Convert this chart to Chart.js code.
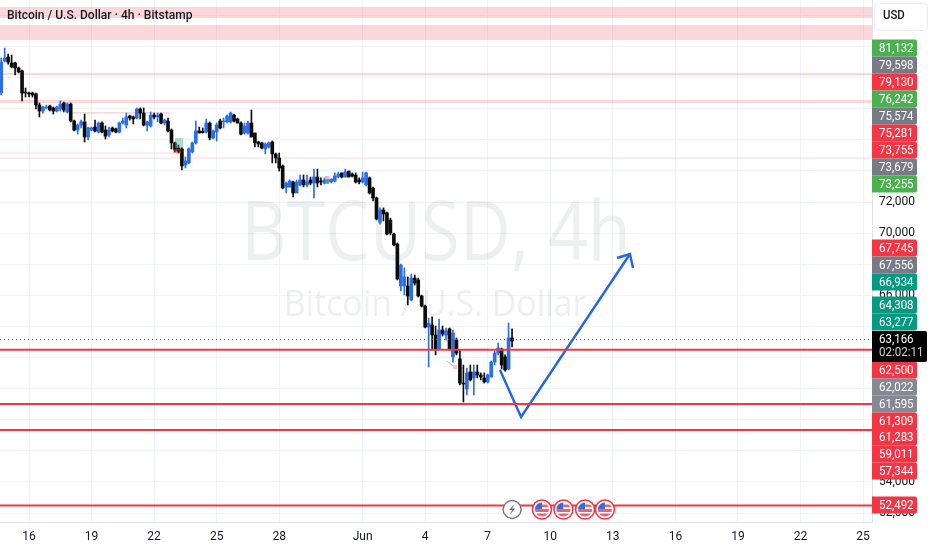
<!DOCTYPE html>
<html>
<head>
<meta charset="utf-8">
<style>html,body{margin:0;padding:0;background:#fff;overflow:hidden}canvas{display:block}</style>
<script src="https://cdn.jsdelivr.net/npm/chart.js@4"></script>
</head>
<body>
<canvas id="c" width="932" height="550"></canvas>
<script>
const opens=[79010,81070,81320,80940,80940,80620,80430,79070,79010,79010,
78950,78240,77850,78050,78170,78050,77850,77980,78370,77790,
78300,77210,76630,76950,77150,76180,76630,76820,76500,77080,
76630,76310,76760,76700,76500,77080,76950,77530,77470,77400,
77980,77720,76950,76890,77590,77470,77660,77080,77210,76630,
75800,75480,75410,74380,74510,75220,75800,76570,76540,76500,
77080,76120,76500,77210,77150,77150,77150,77590,77340,77080,
76440,76440,77080,76440,75860,75800,75410,75540,75860,75090,
74830,74320,72960,72960,73290,72580,73100,73420,73100,73420,
73220,73610,73350,73220,73290,73290,73350,73610,73870,73610,
73990,73800,73740,73420,73290,73100,73550,72900,72260,70700,
71490,71300,70840,69940,69300,66600,66600,66600,65700,67110,
66990,65960,65310,63960,64090,63450,62550,63770,63450,63840,
62040,63130,61910,60360,59980,61070,60690,61070,60880,60690,
60430,60750,61710,62290,62550,62040,61260,63260];
const closes=[81000,81260,81000,80680,80620,80360,79010,79010,78950,78880,
78240,77850,78110,78110,77920,77850,78110,78300,77920,78300,
77210,76630,76950,77150,76180,76760,76760,76570,77080,76500,
76240,76630,76570,76500,77080,77210,77470,77400,77340,77980,
77720,76950,77150,77590,77470,77590,77080,77270,76570,75800,
75350,75220,74320,74640,75410,75800,76570,76440,76470,77080,
76120,76570,76950,76760,77210,77530,77720,77210,77080,76370,
76890,77080,76180,75800,75730,75470,75730,75800,75090,74830,
74190,72900,73220,73350,72580,73290,73420,73100,73290,73220,
73610,73220,73290,73420,73420,73480,73670,73800,73610,73930,
73610,73670,73290,73290,73550,73870,72580,72260,70910,71490,
71230,69940,70010,69240,67050,67950,67180,65960,67110,66790,
65960,65310,63960,64220,63450,62490,63770,63510,63710,62550,
63580,62290,60360,60300,61010,60560,61070,60880,60750,60430,
60880,61710,62290,62610,61520,61200,63260,63060];
const highs=[81260,81900,81520,81450,81000,80680,80490,79330,79070,79070,
79010,78370,78170,78240,78240,78110,78170,78500,78430,78370,
78370,77270,77020,77270,77660,76820,76820,77270,77150,77150,
76890,76820,76820,76760,77150,77400,77720,77590,77530,78050,
78050,78050,77210,77790,77720,77720,77720,77340,77400,76700,
75860,75670,75480,74900,75480,75860,77210,76820,76760,77340,
77150,76630,77080,77340,77400,77590,77790,77660,77400,77150,
77080,77210,77920,76440,75920,75860,75800,75860,75920,75150,
75150,74380,73290,73420,73350,73420,73740,73740,73740,73610,
74120,74120,73550,73550,73420,73480,73870,73930,73870,74120,
73990,73870,73870,73550,73930,73930,73610,72960,72320,71620,
71620,71360,70970,70010,69370,68010,67760,67180,67370,67310,
67110,66020,65380,64540,64610,64030,64480,64030,63900,63900,
63770,63260,62490,61520,61330,61520,61520,61520,61010,61010,
60940,61780,62420,62930,62610,62170,64220,63840];
const lows=[78880,81000,80870,80620,80170,80300,78500,78750,78750,78750,
77980,77470,77720,77980,77850,77660,77790,77850,77790,77720,
77150,76570,76370,76760,75860,75990,76570,76500,76440,76440,
76050,76180,76500,76440,76440,77020,76760,77270,77020,77340,
77340,76890,76570,76820,77340,77150,77020,76950,76500,75410,
75220,75150,74060,74190,74450,75150,75730,76440,76440,76440,
75990,76050,75920,76700,76760,77080,77080,77150,77080,76310,
76370,76370,76180,75540,75540,75410,75090,75470,74510,74510,
73990,72840,72580,72960,72320,72580,73030,72970,72970,73100,
72260,72970,73100,73160,73220,73220,73290,73550,73550,73610,
73610,73610,73220,73160,73220,73030,72510,72070,70840,70580,
70780,69880,69880,69170,66990,66280,66020,65380,65640,66660,
65890,65250,63900,61390,62490,62170,62490,63380,63130,62490,
61710,62170,60240,59140,59590,60490,59590,60690,60560,60360,
60360,60750,61520,62170,61260,61130,61200,62680];

const barsPerDay=6, firstBarDay=-8/6;
const times=opens.map((_,i)=>firstBarDay+i/barsPerDay);

const xTickDays=[0,3,6,9,12,16,19,22,25,28,31,34,37,40];
const xTickLabels=['16','19','22','25','28','Jun','4','7','10','13','16','19','22','25'];
const yGridValues=[52000,54000,56000,58000,60000,62000,64000,66000,68000,70000,72000,74000,76000,78000,80000,82000,84000];
const yShownLabels=[52000,54000,66000,70000,72000];

const levelPrices=[62500,59011,57344,52492];
const lastPrice=63166;
const arrowDays=[22.59,23.6,28.82];
const arrowPrices=[61200,58176,68658];
const arrowHeadDays=[28.2,28.82,28.97];
const arrowHeadPrices=[68400,68658,67760];

const tagLabels=['81,132','79,598','79,130','76,242','75,574','75,281','73,755','73,679','73,255','67,745','67,556','66,934','64,308','63,277','62,500','62,022','61,595','61,309','61,283','59,011','57,344','52,492'];
const tagKinds=['g','s','r','g','s','r','r','s','g','r','s','t','t','t','r','m','m','r','r','r','r','r'];
const tagRows=[48,65,82,99,116,133,150,167,184,248,265,282,305,322,370,387,404,421,437,454,471,505];
const eventDays=[24.6,25.63,26.67,27.62];
const boltDay=23.17;

const zoneLow=[83833,82418,80167,78366,77690,75120,74800];
const zoneHigh=[84540,83383,80296,78559,77787,75180,74860];
const zoneFrom=[-1.4,-1.4,-1.4,-1.4,1.97,-1.4,-1.4];
const zoneTo=[40.5,40.5,40.5,40.5,6.76,7.24,40.5];
const TITLE='Bitcoin / U.S. Dollar · 4h · Bitstamp';
const FONT='Roboto, "Open Sans", sans-serif';
const BLUE='#2a6fe8', DOWN='#0c0c0c', RED='#f23645';
const tagColor={g:'#4caf50',s:'#787b86',r:'#f23645',t:'#089981',m:'#868993'};

function narrowText(ctx,s,x,y,font,color,sx,align){
  ctx.save();ctx.font=font;ctx.fillStyle=color;ctx.textAlign=align||'left';ctx.textBaseline='middle';
  ctx.translate(x,y);ctx.scale(sx,1);ctx.fillText(s,0,0);ctx.restore();
}
const underlay={id:'underlay',beforeDatasetsDraw(ch){
  const {ctx,scales:{x,y},chartArea:a}=ch;
  ctx.save();ctx.beginPath();ctx.rect(a.left,a.top,a.right-a.left,a.bottom-a.top);ctx.clip();
  narrowText(ctx,'BTCUSD, 4h',436,237,'500 82px "Open Sans"','rgba(19,23,34,0.07)',0.86,'center');
  narrowText(ctx,'Bitcoin / U.S. Dollar',435,306,'500 36px "Open Sans"','rgba(19,23,34,0.07)',0.94,'center');
  ctx.fillStyle='rgba(242,54,69,0.2)';
  zoneLow.forEach((lo,i)=>{
    const t=y.getPixelForValue(zoneHigh[i]),b=y.getPixelForValue(lo);
    const l=x.getPixelForValue(zoneFrom[i]),r=x.getPixelForValue(zoneTo[i]);
    ctx.fillRect(l,t,r-l,b-t);
  });
  ctx.restore();
},afterDatasetsDraw(ch){
  const {ctx,scales:{x,y}}=ch;
  const box=(d0,d1,v0,v1,c)=>{ctx.fillStyle=c;const l=x.getPixelForValue(d0),r=x.getPixelForValue(d1),t=y.getPixelForValue(v1),b=y.getPixelForValue(v0);ctx.fillRect(l,t,r-l,b-t);};
  box(7.0,7.39,75474,76116,'rgba(76,175,140,0.45)');
  box(6.9,7.3,75150,75410,'rgba(242,54,69,0.4)');
  box(14.2,14.39,73420,73670,'rgba(242,54,69,0.4)');
  box(14.2,14.39,73160,73420,'rgba(76,175,140,0.7)');
  box(20.34,20.53,61260,61520,'rgba(242,54,69,0.3)');
}};
const overlay={id:'overlay',afterDraw(ch){
  const {ctx,scales:{x,y},chartArea:a}=ch;
  narrowText(ctx,TITLE,7,16,'500 13px '+FONT,'#131722',0.925);
  ctx.save();ctx.strokeStyle='#e9ebf1';ctx.lineWidth=1;ctx.fillStyle='#fff';ctx.beginPath();ctx.roundRect(874.5,3.5,53,27,4);ctx.fill();ctx.stroke();ctx.restore();
  narrowText(ctx,'USD',883,16,'500 12px '+FONT,'#131722',0.95);
  tagLabels.forEach((s,i)=>{
    const c=tagRows[i];
    ctx.fillStyle=tagColor[tagKinds[i]];
    ctx.beginPath();ctx.roundRect(872,c-8.5,45,17,[0,2,2,0]);ctx.fill();
    narrowText(ctx,s,879,c+0.5,'12.5px '+FONT,'#fff',0.92);
  });
  ctx.fillStyle='#000';ctx.beginPath();ctx.roundRect(872,331,55,31,[0,2,2,0]);ctx.fill();
  narrowText(ctx,'63,166',879,339.5,'12.5px '+FONT,'#fff',0.92);
  narrowText(ctx,'02:02:11',879,353,'12.5px '+FONT,'#d1d4dc',0.92);
  const cy=509.5;
  const bx=x.getPixelForValue(boltDay);
  ctx.beginPath();ctx.arc(bx,cy,9,0,7);ctx.fillStyle='#fff';ctx.fill();ctx.strokeStyle='#7c7480';ctx.lineWidth=1.4;ctx.stroke();
  ctx.beginPath();ctx.moveTo(bx+2.5,cy-5.5);ctx.lineTo(bx-3,cy+0.5);ctx.lineTo(bx,cy+0.5);ctx.lineTo(bx-2.5,cy+5.5);ctx.lineTo(bx+3,cy-1);ctx.lineTo(bx,cy-1);ctx.closePath();ctx.fillStyle='#8a5a66';ctx.fill();
  eventDays.forEach(d=>{
    const ex=x.getPixelForValue(d);
    ctx.save();
    ctx.beginPath();ctx.arc(ex,cy,9.5,0,7);ctx.fillStyle='#fff';ctx.fill();ctx.strokeStyle=RED;ctx.lineWidth=1.6;ctx.stroke();
    ctx.beginPath();ctx.arc(ex,cy,7,0,7);ctx.clip();
    ctx.fillStyle='#fff';ctx.fillRect(ex-8,cy-8,16,16);
    ctx.fillStyle='#f0606c';ctx.fillRect(ex-8,cy-0.5,16,3);ctx.fillRect(ex-8,cy+4,16,4);ctx.fillRect(ex,cy-5,8,2.5);
    ctx.fillStyle='#2f6fd8';ctx.fillRect(ex-8,cy-8,8,7.5);
    ctx.restore();
  });
}};
const lineSet=(days,prices,color,w,dash)=>({type:'line',data:days.map((d,i)=>({x:d,y:prices[i]})),borderColor:color,borderWidth:w,borderDash:dash||[],pointRadius:0,tension:0,fill:false,order:1,clip:true});
const domainL=-1.391, domainR=40.43;
const datasets=[
  lineSet([domainL,domainR],[lastPrice,lastPrice],'#50535e',1,[1,3]),
  ...levelPrices.map(p=>lineSet([domainL,domainR],[p,p],RED,2)),
  lineSet(arrowDays,arrowPrices,'#2367e0',2.4),
  lineSet(arrowHeadDays,arrowHeadPrices,'#2367e0',2.4),
  lineSet([20.05,20.34],[61780,61450],'#b2b5be',1),
  {type:'bar',grouped:false,barThickness:1,order:3,
   data:times.map((t,i)=>({x:t,y:[lows[i],highs[i]]})),
   backgroundColor:c=>closes[c.dataIndex]>=opens[c.dataIndex]?BLUE:DOWN},
  {type:'bar',grouped:false,barThickness:3,order:2,
   data:times.map((t,i)=>({x:t,y:[opens[i],closes[i]]})),
   backgroundColor:c=>closes[c.dataIndex]>=opens[c.dataIndex]?BLUE:DOWN}
];
const zeroPad=s=>{s.paddingLeft=s.paddingRight=s.paddingTop=s.paddingBottom=0;};
new Chart(document.getElementById('c'),{
  type:'bar',
  data:{datasets},
  plugins:[underlay,overlay],
  options:{
    responsive:false,animation:false,devicePixelRatio:1,
    layout:{padding:0,autoPadding:false},
    plugins:{legend:{display:false},tooltip:{enabled:false}},
    scales:{
      x:{type:'linear',min:domainL,max:domainR,offset:false,
        grid:{color:'#f0f3fa',drawTicks:false,offset:false},
        border:{color:'#e0e3eb'},
        afterBuildTicks(s){s.ticks=xTickDays.map(v=>({value:v}));},
        afterFit(s){s.height=28;zeroPad(s);},
        ticks:{autoSkip:false,maxRotation:0,padding:8,color:'#131722',font:{family:FONT,size:12},
          callback:v=>{const i=xTickDays.indexOf(v);return i<0?'':xTickLabels[i];}}},
      y:{type:'linear',position:'right',min:51425,max:84990,
        grid:{color:'#f0f3fa',drawTicks:false},
        border:{color:'#e0e3eb'},
        afterBuildTicks(s){s.ticks=yGridValues.map(v=>({value:v}));},
        afterFit(s){s.width=60;zeroPad(s);},
        ticks:{autoSkip:false,padding:7,color:'#131722',font:{family:FONT,size:12},
          callback:v=>yShownLabels.includes(v)?v.toLocaleString('en-US'):''}}
    }
  }
});
</script>
</body>
</html>
